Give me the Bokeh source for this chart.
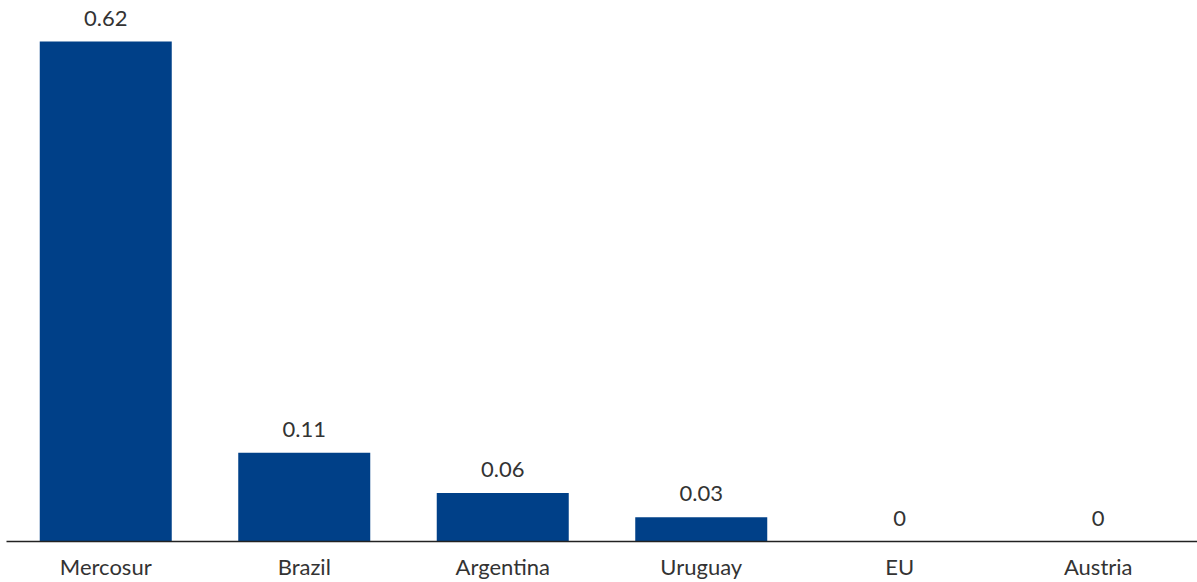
from bokeh.plotting import figure
from bokeh.models import ColumnDataSource, FactorRange, Range1d
from bokeh.core.properties import value
from bokeh.embed import file_html
from bokeh.resources import INLINE

categories = ["Mercosur", "Brazil", "Argentina", "Uruguay", "EU", "Austria"]
values = [0.62, 0.11, 0.06, 0.03, 0, 0]
labels = ["0.62", "0.11", "0.06", "0.03", "0", "0"]

src = ColumnDataSource(dict(cat=categories, val=values, lab=labels))

p = figure(width=1197, height=582, x_range=FactorRange(*categories, range_padding=0),
           y_range=Range1d(0, 0.671), output_backend="svg", toolbar_location=None,
           min_border_left=6, min_border_right=0, min_border_top=0, min_border_bottom=41)
p.vbar(x="cat", top="val", width=0.665, source=src, color="#004088", line_color=None)
p.text(x="cat", y="val", text="lab", source=src, text_align="center", text_baseline="bottom",
       y_offset=-16, text_font=value("Lato"), text_font_size="22px", text_color="#333333")

p.outline_line_color = None
p.grid.visible = False
p.yaxis.visible = False
p.xaxis.axis_line_color = "#222222"
p.xaxis.axis_line_width = 1.5
p.xaxis.major_tick_line_color = None
p.xaxis.minor_tick_line_color = None
p.xaxis.major_label_standoff = 5
p.xaxis.major_label_text_font = "Lato"
p.xaxis.major_label_text_font_size = "22px"
p.xaxis.major_label_text_color = "#333333"

open("out.html", "w").write(file_html(p, INLINE))
